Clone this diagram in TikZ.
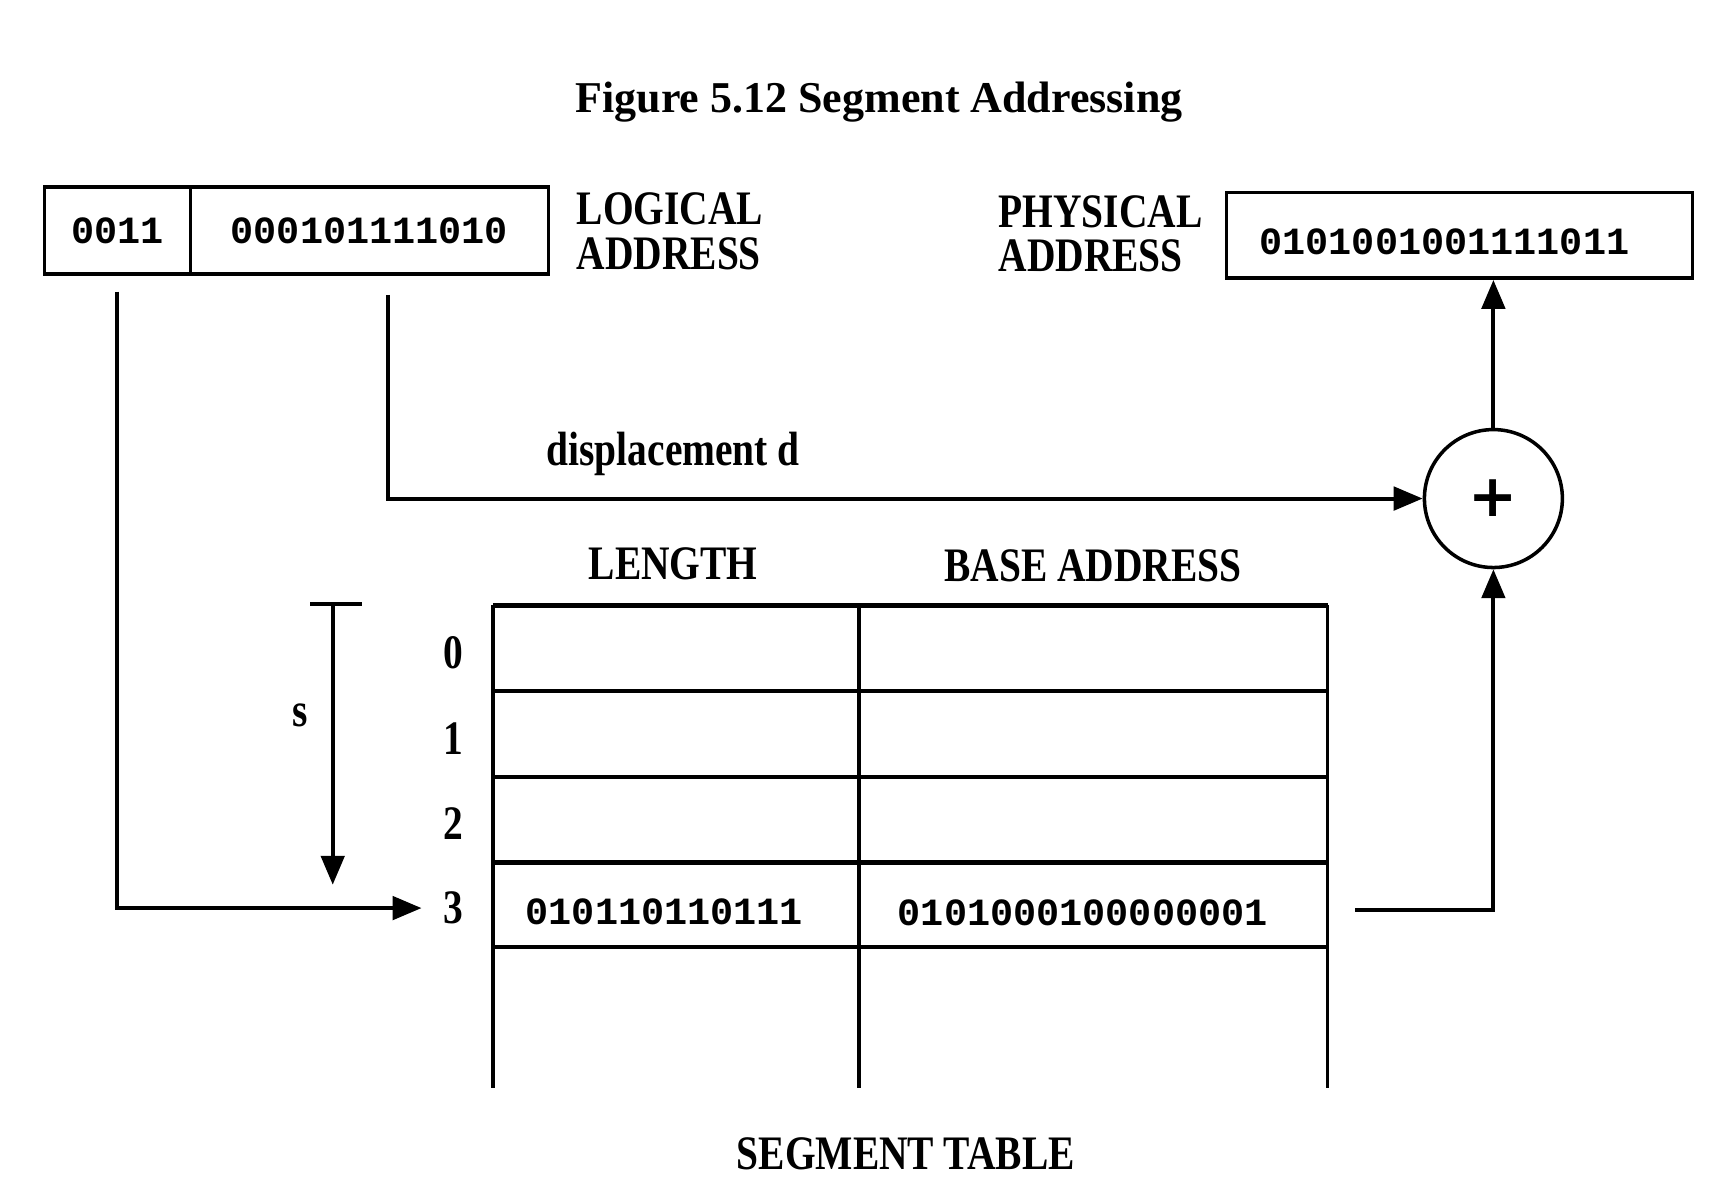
\documentclass[tikz,border=0pt]{standalone}
\usepackage{fontspec}
\setmainfont{Liberation Serif}
\setmonofont{Liberation Mono}
\newfontfamily\narrowfont[FakeStretch=0.82]{Liberation Serif}
\newfontfamily\plusfont{DejaVu Sans}
\usetikzlibrary{arrows.meta}

\begin{document}
\begin{tikzpicture}[x=0.02cm, y=-0.02cm,
    lbl/.style={font=\narrowfont\bfseries\fontsize{24.6}{22.7}\selectfont, align=left, inner sep=0pt},
    bits/.style={font=\ttfamily\bfseries\fontsize{19.7}{22}\selectfont, inner sep=0pt},
    field/.style={draw, line width=1.8pt, minimum height=1.56cm, inner sep=0pt},
    conn/.style={line width=2pt},
    tip/.style={-{Triangle[length=0.52cm,width=0.42cm]}},
    rowline/.style={line width=2.2pt},
    colline/.style={line width=1.8pt}]

    \useasboundingbox (0,0) rectangle (1560,1063);

    \node[font=\bfseries\fontsize{22.5}{27}\selectfont] (title) at (790,92) {Figure 5.12 Segment Addressing};

    % logical and physical address
    \node[field, bits, minimum width=2.62cm] (seg) at (105.5,207) {0011};
    \node[field, bits, minimum width=6.44cm] (off) at (332,207) {000101111010};
    \node[lbl, anchor=west] (lognm) at (518,208) {LOGICAL\\ADDRESS};
    \node[lbl, anchor=west] (physnm) at (897,210) {PHYSICAL\\ADDRESS};
    \node[field, minimum width=8.38cm, minimum height=1.54cm] (phys) at (1311.5,211.5) {};
    \node[bits] (physbits) at (1298,217) {0101001001111011};

    \node[lbl] (disp) at (605,408) {displacement d};
    \node[draw, circle, line width=1.8pt, minimum size=2.48cm, inner sep=0pt,
          font=\plusfont\bfseries\fontsize{30}{30}\selectfont] (plus) at (1342,448) {+};

    % segment table
    \node[lbl] (lenhd) at (605,507) {LENGTH};
    \node[lbl] (basehd) at (982,508) {BASE ADDRESS};
    \draw[rowline] (443,544) -- (1193,544);
    \foreach \y in {621,698,775,851}
        \draw[rowline] (443,\y) -- (1193,\y);
    \foreach \x in {443,772,1193}
        \draw[colline] (\x,544) -- (\x,978);
    \foreach \i/\y in {0/587,1/664,2/740,3/816}
        \node[lbl] (r\i) at (407,\y) {\i};
    \node[bits] (len3) at (597,819) {010110110111};
    \node[bits] (base3) at (973,820) {0101000100000001};
    \node[lbl] (segtab) at (814,1037) {SEGMENT TABLE};

    % s offset
    \coordinate (stop) at (299,543);
    \coordinate (sbot) at (299,795);
    \draw[conn] ([xshift=-0.4cm]stop) -- ([xshift=0.52cm]stop);
    \draw[conn, tip] (stop) -- (sbot);
    \node[lbl] (slbl) at (270,643) {s};

    % connectors
    \coordinate (segout) at (105,262);
    \coordinate (dispout) at (349,265);
    \coordinate (tabout) at (1218,818);
    \draw[conn, tip] (segout) |- ([xshift=-0.38cm]r3.west);
    \draw[conn, tip] (dispout) |- (plus.west);
    \draw[conn, tip] (plus.north) -- (plus.north |- phys.south);
    \draw[conn, tip] (tabout) -| (plus.south);
\end{tikzpicture}
\end{document}
